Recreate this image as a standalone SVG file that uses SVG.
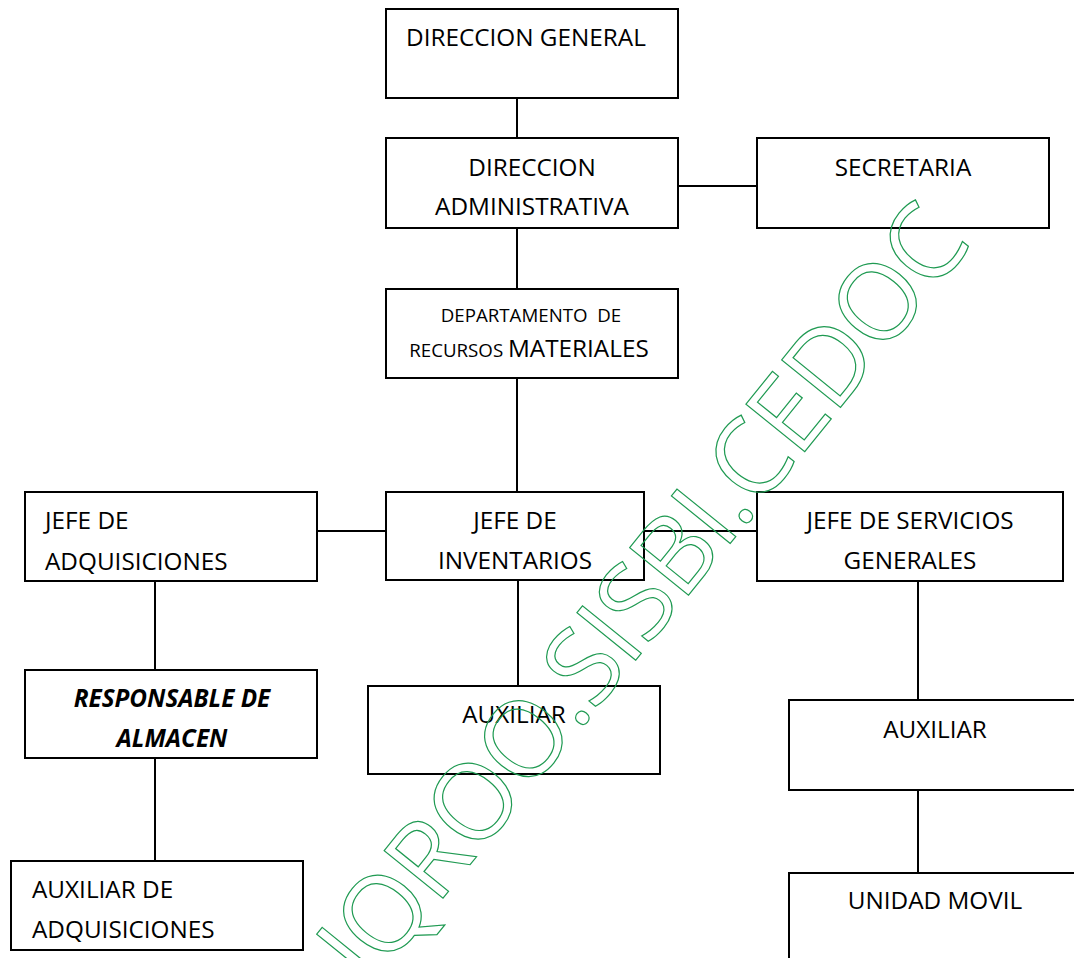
<svg xmlns="http://www.w3.org/2000/svg" width="1074" height="958" viewBox="0 0 1074 958">
<style>
.box{fill:#fff;stroke:#000;stroke-width:2}
.ln{stroke:#000;stroke-width:2;fill:none}
.t{font-family:"Open Sans","Liberation Sans",sans-serif;font-size:24.3px;fill:#000}
.c{text-anchor:middle}
.s{font-size:18.7px}
.bi{font-weight:bold;font-style:italic}
.wm{font-family:"Open Sans","Liberation Sans",sans-serif;font-size:106px;letter-spacing:-2px;fill:none;stroke:#1f9a52;stroke-width:1.2}
</style>
<rect width="1074" height="958" fill="#fff"/>
<g id="connectors">
<line class="ln" x1="517" y1="98" x2="517" y2="138"/>
<line class="ln" x1="678" y1="186" x2="757" y2="186"/>
<line class="ln" x1="517" y1="228" x2="517" y2="289"/>
<line class="ln" x1="517" y1="378" x2="517" y2="492"/>
<line class="ln" x1="317" y1="531" x2="386" y2="531"/>
<line class="ln" x1="644" y1="531" x2="757" y2="531"/>
<line class="ln" x1="155" y1="581" x2="155" y2="670"/>
<line class="ln" x1="155" y1="758" x2="155" y2="861"/>
<line class="ln" x1="518" y1="580" x2="518" y2="686"/>
<line class="ln" x1="918" y1="581" x2="918" y2="700"/>
<line class="ln" x1="918" y1="790" x2="918" y2="873"/>
</g>
<g id="direccion-general">
<rect class="box" x="386" y="9" width="292" height="89"/>
<text class="t" x="406" y="46">DIRECCION GENERAL</text>
</g>
<g id="direccion-administrativa">
<rect class="box" x="386" y="138" width="292" height="90"/>
<text class="t c" x="532" y="176">DIRECCION</text>
<text class="t c" x="532" y="215">ADMINISTRATIVA</text>
</g>
<g id="secretaria">
<rect class="box" x="757" y="138" width="292" height="90"/>
<text class="t c" x="903" y="176">SECRETARIA</text>
</g>
<g id="departamento">
<rect class="box" x="386" y="289" width="292" height="89"/>
<text class="t c s" x="531" y="322" xml:space="preserve">DEPARTAMENTO  DE</text>
<text class="t c" x="529" y="357"><tspan class="s">RECURSOS </tspan>MATERIALES</text>
</g>
<g id="jefe-adquisiciones">
<rect class="box" x="25" y="492" width="292" height="89"/>
<text class="t" x="45" y="529">JEFE DE</text>
<text class="t" x="45" y="570">ADQUISICIONES</text>
</g>
<g id="jefe-inventarios">
<rect class="box" x="386" y="492" width="258" height="88"/>
<text class="t c" x="515" y="529">JEFE DE</text>
<text class="t c" x="515" y="569">INVENTARIOS</text>
</g>
<g id="jefe-servicios">
<rect class="box" x="757" y="492" width="306" height="89"/>
<text class="t c" x="910" y="529">JEFE DE SERVICIOS</text>
<text class="t c" x="910" y="569">GENERALES</text>
</g>
<g id="responsable-almacen">
<rect class="box" x="25" y="670" width="292" height="88"/>
<text class="t c bi" x="172" y="707">RESPONSABLE DE</text>
<text class="t c bi" x="172" y="747">ALMACEN</text>
</g>
<g id="auxiliar-inventarios">
<rect class="box" x="368" y="686" width="292" height="88"/>
<text class="t c" x="514" y="723">AUXILIAR</text>
</g>
<g id="auxiliar-servicios">
<rect class="box" x="789" y="700" width="295" height="90"/>
<text class="t c" x="935" y="738">AUXILIAR</text>
</g>
<g id="auxiliar-adquisiciones">
<rect class="box" x="11" y="861" width="292" height="89"/>
<text class="t" x="32" y="898">AUXILIAR DE</text>
<text class="t" x="32" y="938">ADQUISICIONES</text>
</g>
<g id="unidad-movil">
<rect class="box" x="789" y="873" width="295" height="100"/>
<text class="t c" x="935" y="909">UNIDAD MOVIL</text>
</g>
<g id="watermark" transform="translate(626,612) rotate(-51)">
<text class="wm" x="0" y="38" text-anchor="middle">UQROO.SISBI.CEDOC</text>
</g>
</svg>
